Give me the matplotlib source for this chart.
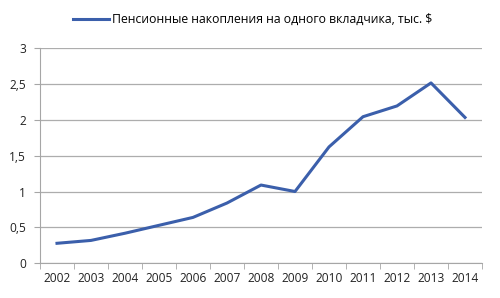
import matplotlib
matplotlib.use("Agg")
import matplotlib.pyplot as plt

years = ["2002", "2003", "2004", "2005", "2006", "2007", "2008",
         "2009", "2010", "2011", "2012", "2013", "2014"]
savings = [0.28, 0.32, 0.42, 0.53, 0.64, 0.84, 1.09,
           1.00, 1.62, 2.04, 2.19, 2.51, 2.03]
yticks = [0, 0.5, 1, 1.5, 2, 2.5, 3]
ytick_labels = ["0", "0,5", "1", "1,5", "2", "2,5", "3"]
label = "Пенсионные накопления на одного вкладчика, тыс. $"

plt.rcParams["font.family"] = ["Open Sans", "DejaVu Sans"]

fig = plt.figure(figsize=(5.0, 2.98), dpi=100)
ax = fig.add_axes([0.08, 0.116, 0.884, 0.724])

x = list(range(len(years)))
line, = ax.plot(x, savings, color="#3B5FAB", linewidth=2.2, label=label)

ax.set_xlim(-0.5, len(years) - 0.5)
ax.set_ylim(0, 3)
ax.set_yticks(yticks)
ax.set_yticklabels(ytick_labels)
ax.set_xticks(x)
ax.set_xticklabels(years)
ax.set_xticks([i - 0.5 for i in range(len(years) + 1)], minor=True)

ax.grid(axis="y", color="#ADADAD", linewidth=0.9)
ax.set_axisbelow(True)
for s in ["top", "right"]:
    ax.spines[s].set_visible(False)
ax.spines["left"].set_color("#A6A6A6")
ax.spines["bottom"].set_color("#A6A6A6")

ax.tick_params(axis="x", which="major", length=0, labelsize=8.6, pad=6)
ax.tick_params(axis="x", which="minor", length=4, color="#A6A6A6")
ax.tick_params(axis="y", length=4, color="#A6A6A6", labelsize=8.6, pad=6)
for t in ax.get_yticklabels() + ax.get_xticklabels():
    t.set_color("#222222")

fig.legend(handles=[line], loc="center", bbox_to_anchor=(0.505, 0.935),
           frameon=False, fontsize=8.8, handlelength=3.0, handletextpad=0.2)

fig.savefig("out.png", dpi=100, facecolor="white")
